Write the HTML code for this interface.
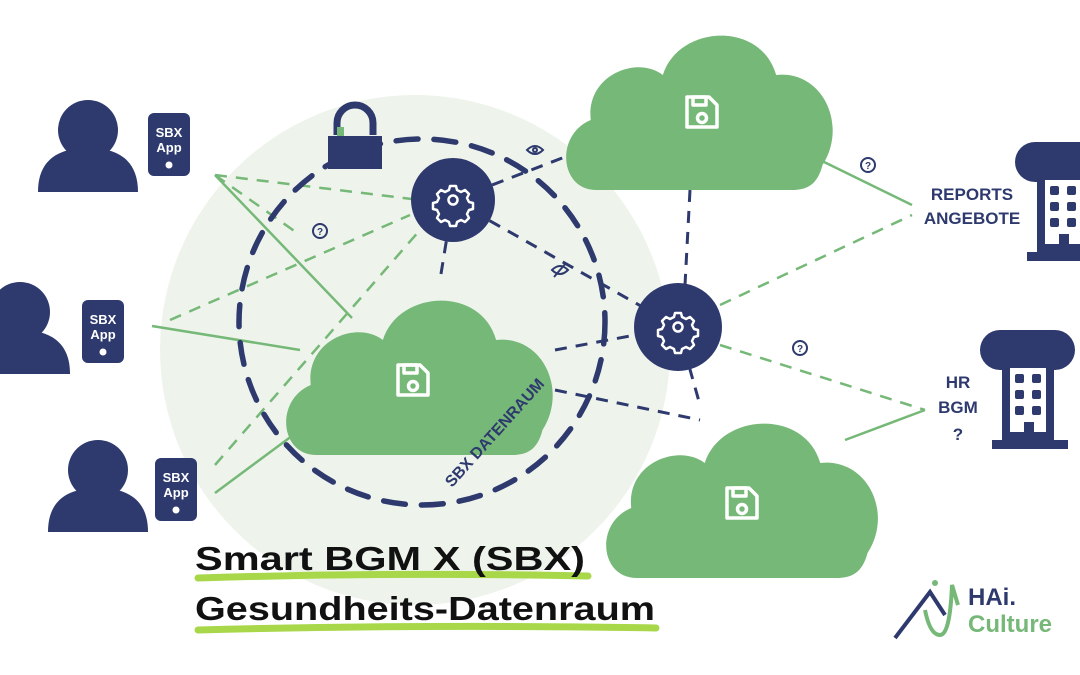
<!DOCTYPE html>
<html><head><meta charset="utf-8"><style>
html,body{margin:0;padding:0;background:#fff;width:1080px;height:675px;overflow:hidden}
svg{display:block}
text{font-family:"Liberation Sans","DejaVu Sans",sans-serif;font-weight:bold;fill:#2e3a6e}
</style></head><body>
<svg width="1080" height="675" viewBox="0 0 1080 675">
<defs>
<g id="cloud"><path d="M30,175 C-5,175 -10,120 25,105 C20,60 70,40 95,60 C110,10 190,5 205,60 C250,55 275,110 250,150 C245,170 235,175 220,175 Z" fill="#76b877"/></g>
<g id="disk" fill="none" stroke="#fff" stroke-width="3.5" stroke-linejoin="round"><path d="M-15,-15 h22 l8,8 v22 h-30 z"/><rect x="-9" y="-15" width="13" height="8"/><circle cx="0" cy="6" r="4.5"/></g>
<g id="gear"><path d="M-3,-14 h6 l1,4 4,2 4,-2 4,4 -2,4 2,4 4,1 v6 l-4,1 -2,4 2,4 -4,4 -4,-2 -4,2 -1,4 h-6 l-1,-4 -4,-2 -4,2 -4,-4 2,-4 -2,-4 -4,-1 v-6 l4,-1 2,-4 -2,-4 4,-4 4,2 4,-2 z" fill="none" stroke="#fff" stroke-width="2.5" stroke-linejoin="round"/><circle r="4.5" fill="none" stroke="#fff" stroke-width="2.5"/></g>
<g id="person" fill="#2e3a6e"><circle cx="0" cy="0" r="30"/><path d="M-50,62 C-50,30 -30,18 0,18 C30,18 50,30 50,62 Z"/></g>
<g id="phone"><rect x="0" y="0" width="42" height="63" rx="6" fill="#2e3a6e"/><text x="21" y="24" font-size="13" text-anchor="middle" style="fill:#fff">SBX</text><text x="21" y="39" font-size="13" text-anchor="middle" style="fill:#fff">App</text><circle cx="21" cy="52" r="3.5" fill="#fff"/></g>
<g id="bld" fill="#2e3a6e"><rect x="-50" y="0" width="95" height="40" rx="20"/><rect x="-28" y="28" width="52" height="85"/><rect x="-38" y="110" width="76" height="9"/><g fill="#fff"><rect x="-20" y="38" width="36" height="64"/></g><g fill="#2e3a6e"><rect x="-15" y="44" width="9" height="9" rx="2"/><rect x="2" y="44" width="9" height="9" rx="2"/><rect x="-15" y="60" width="9" height="9" rx="2"/><rect x="2" y="60" width="9" height="9" rx="2"/><rect x="-15" y="76" width="9" height="9" rx="2"/><rect x="2" y="76" width="9" height="9" rx="2"/><rect x="-6" y="92" width="10" height="18"/></g></g>
</defs>
<circle cx="415" cy="350" r="255" fill="#eef4ec"/>
<g stroke="#76b877" stroke-width="2.5" fill="none">
<line x1="215" y1="175" x2="352" y2="318"/>
<line x1="152" y1="326" x2="300" y2="350"/>
<line x1="215" y1="493" x2="300" y2="430"/>
<line x1="820" y1="160" x2="912" y2="205"/>
<line x1="845" y1="440" x2="925" y2="410"/>
</g>
<g stroke="#76b877" stroke-width="2.5" fill="none" stroke-dasharray="12,9">
<line x1="215" y1="175" x2="420" y2="200"/>
<line x1="170" y1="320" x2="410" y2="215"/>
<line x1="215" y1="175" x2="300" y2="235"/>
<line x1="215" y1="465" x2="420" y2="230"/>
<line x1="720" y1="305" x2="912" y2="215"/>
<line x1="720" y1="345" x2="925" y2="410"/>
</g>
<g stroke="#2e3a6e" stroke-width="3" fill="none" stroke-dasharray="12,9">
<line x1="453" y1="200" x2="570" y2="155"/>
<line x1="453" y1="200" x2="678" y2="327"/>
<line x1="453" y1="200" x2="440" y2="280"/>
<line x1="690" y1="190" x2="685" y2="285"/>
<line x1="555" y1="350" x2="678" y2="327"/>
<line x1="555" y1="390" x2="700" y2="420"/>
<line x1="678" y1="327" x2="700" y2="405"/>
</g>
<circle cx="422" cy="322" r="183" fill="none" stroke="#2e3a6e" stroke-width="5.5" stroke-dasharray="22,16" stroke-linecap="round"/>
<use href="#cloud" transform="translate(565,15) scale(1.03,1)"/>
<use href="#cloud" transform="translate(285,280) scale(1.03,1)"/>
<use href="#cloud" transform="translate(605,403) scale(1.05,1)"/>
<use href="#disk" transform="translate(702,112)"/>
<use href="#disk" transform="translate(413,380)"/>
<use href="#disk" transform="translate(742,503)"/>
<circle cx="453" cy="200" r="42" fill="#2e3a6e"/><use href="#gear" transform="translate(453,200)"/>
<circle cx="678" cy="327" r="44" fill="#2e3a6e"/><use href="#gear" transform="translate(678,327)"/>
<path d="M337,135 v-12 a18,18 0 0 1 36,0 v12" fill="none" stroke="#2e3a6e" stroke-width="7"/>
<rect x="337" y="127" width="7" height="10" fill="#76b877"/>
<rect x="328" y="136" width="54" height="33" fill="#2e3a6e"/>
<g fill="none" stroke="#2e3a6e" stroke-width="2">
<circle cx="320" cy="231" r="7"/><circle cx="868" cy="165" r="7"/><circle cx="800" cy="348" r="7"/>
<path d="M527,150 q8,-8 16,0 q-8,8 -16,0z"/><circle cx="535" cy="150" r="2"/>
<path d="M552,270 q8,-8 16,0 q-8,8 -16,0z"/><line x1="554" y1="277" x2="566" y2="263"/>
</g>
<g font-size="10" text-anchor="middle"><text x="320" y="235">?</text><text x="868" y="169">?</text><text x="800" y="352">?</text></g>
<text x="0" y="0" font-size="16" transform="translate(452,488) rotate(-48)">SBX DATENRAUM</text>
<use href="#person" transform="translate(88,130)"/>
<use href="#person" transform="translate(20,312)"/>
<use href="#person" transform="translate(98,470)"/>
<use href="#phone" transform="translate(148,113)"/>
<use href="#phone" transform="translate(82,300)"/>
<use href="#phone" transform="translate(155,458)"/>
<use href="#bld" transform="translate(1065,142)"/>
<use href="#bld" transform="translate(1030,330)"/>
<g font-size="17" text-anchor="middle"><text x="972" y="200">REPORTS</text><text x="972" y="224">ANGEBOTE</text>
<text x="958" y="388">HR</text><text x="958" y="413">BGM</text><text x="958" y="440">?</text></g>
<path d="M198,578 q190,-6 390,-2" stroke="#a8d84a" stroke-width="7" fill="none" stroke-linecap="round"/>
<path d="M198,630 q230,-6 458,-2" stroke="#a8d84a" stroke-width="7" fill="none" stroke-linecap="round"/>
<g style="font-family:'DejaVu Sans Mono','Liberation Mono',monospace" font-size="33">
<text x="195" y="570" textLength="390" lengthAdjust="spacingAndGlyphs" style="fill:#111">Smart BGM X (SBX)</text>
<text x="195" y="620" textLength="460" lengthAdjust="spacingAndGlyphs" style="fill:#111">Gesundheits-Datenraum</text>
</g>
<path d="M895,638 L930,592 L945,615" stroke="#2e3a6e" stroke-width="4" fill="none"/>
<path d="M925,610 q5,25 15,25 q10,0 12,-50 l6,20" stroke="#76b877" stroke-width="4" fill="none"/>
<circle cx="935" cy="583" r="3" fill="#76b877"/>
<text x="968" y="605" font-size="24">HAi.</text>
<text x="968" y="632" font-size="24" style="fill:#76b877">Culture</text>
</svg>
</body></html>
